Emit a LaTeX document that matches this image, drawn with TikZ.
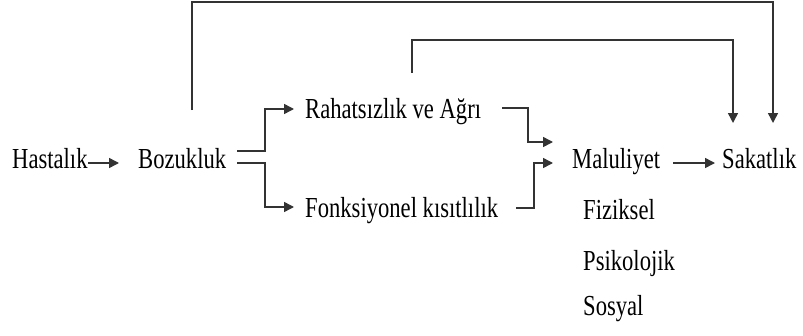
\documentclass[tikz,border=0pt]{standalone}
\usepackage{fontspec}
\setmainfont{Liberation Serif}[FakeStretch=0.78]
\usetikzlibrary{arrows.meta}
\begin{document}
\begin{tikzpicture}[x=1pt,y=-1pt,
  lbl/.style={anchor=base west,inner sep=0pt,font=\fontsize{29}{31}\selectfont,text=black},
  conn/.style={line width=1.5pt,draw=black!80},
  arr/.style={conn,-{Triangle[length=10pt,width=10pt]}}]
\useasboundingbox (0,0) rectangle (803,335);
\node[lbl] (has) at (12,168) {Hastalık};
\node[lbl] (boz) at (138,168) {Bozukluk};
\node[lbl] (rah) at (305,118) {Rahatsızlık ve Ağrı};
\node[lbl] (fon) at (305,217) {Fonksiyonel kısıtlılık};
\node[lbl] (mal) at (572,168) {Maluliyet};
\node[lbl] (sak) at (722,168) {Sakatlık};
\node[lbl] (fiz) at (583,219) {Fiziksel};
\node[lbl] (psi) at (583,270) {Psikolojik};
\node[lbl] (sos) at (583,315) {Sosyal};
% Hastalik -> Bozukluk
\coordinate (h1) at (88,163);
\coordinate (h2) at (119,163);
\draw[arr] (h1) -- (h2);
% Bozukluk branches
\coordinate (b1) at (237,151);
\coordinate (b2) at (237,163);
\draw[arr] (b1) -- (265,151) -- (265,109) -- (294,109);
\draw[arr] (b2) -- (265,163) -- (265,207) -- (294,207);
% Rahatsizlik -> Maluliyet
\draw[arr] (502,108) -- (528,108) -- (528,142) -- (553,142);
% Fonksiyonel -> Maluliyet
\draw[arr] (516,208) -- (534,208) -- (534,163) -- (553,163);
% Maluliyet -> Sakatlik
\draw[arr] (673,163) -- (715,163);
% top loops
\coordinate (t1) at (192,110);
\draw[arr] (t1) -- (192,2) -- (773,2) -- (773,123);
\coordinate (t2) at (412,73);
\draw[arr] (t2) -- (412,40) -- (733,40) -- (733,123);
\end{tikzpicture}
\end{document}
